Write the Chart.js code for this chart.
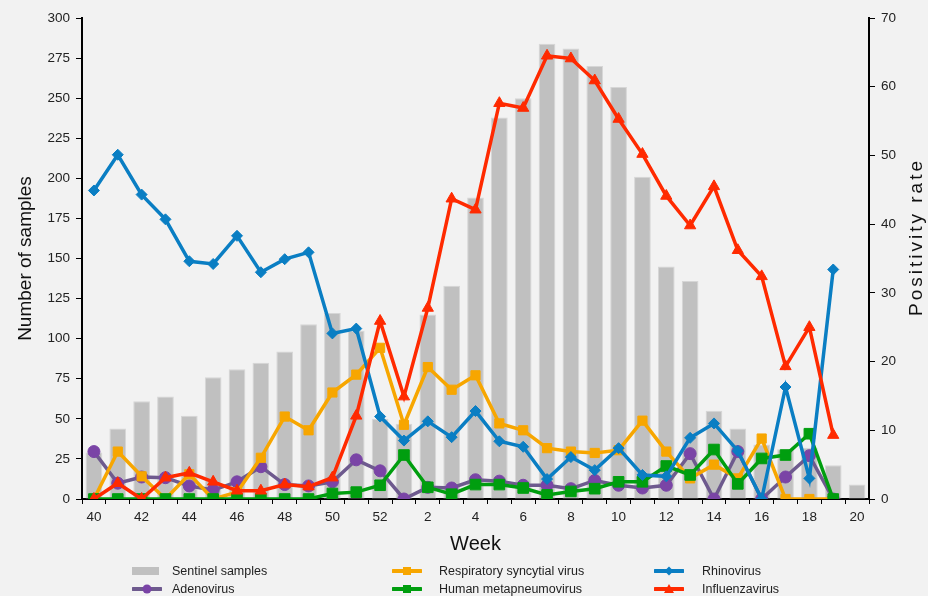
<!DOCTYPE html>
<html>
<head>
<meta charset="utf-8">
<script src="https://cdn.jsdelivr.net/npm/chart.js@4.4.1/dist/chart.umd.min.js"></script>
<style>
  html, body { margin: 0; padding: 0; background: #f2f2f2; }
  #wrap { position: relative; width: 928px; height: 596px; }
  #legend { position: absolute; left: 0; top: 0; width: 928px; height: 596px; pointer-events: none;
            font: 12.5px "Liberation Sans", Arial, sans-serif; color: #222; }
  .icon { position: absolute; }
  .text { position: absolute; height: 16px; line-height: 16px; white-space: nowrap; }
</style>
</head>
<body>
<div id="wrap">
  <canvas id="chart" width="928" height="596"></canvas>
  <div id="legend"></div>
</div>
<script>
// weeks 40..52 of one year, 1..20 of the next
const weeks = ['40','41','42','43','44','45','46','47','48','49','50','51','52',
               '1','2','3','4','5','6','7','8','9','10','11','12','13','14','15','16','17','18','19','20'];

// number of samples (left axis)
const sentinelSamples = [29, 44, 61, 64, 52, 76, 81, 85, 92, 109, 116, 105, 50,
                         47, 115, 133, 188, 238, 250, 284, 281, 270, 257, 201, 145, 136, 55, 44, 34, 31, 32, 21, 9];

// positivity rates (right axis)
const influenzavirus = [0, 2.3, 0, 3.1, 3.8, 2.5, 1.2, 1.2, 2.1, 1.8, 3.1, 12.1, 25.9,
                        14.9, 27.8, 43.7, 42.1, 57.6, 56.9, 64.5, 64.1, 60.9, 55.3, 50.2, 44.1, 39.8, 45.5, 36.2, 32.4, 19.3, 25.0, 9.3, null];
const rhinovirus = [44.9, 50.1, 44.3, 40.7, 34.6, 34.2, 38.3, 33.0, 34.9, 35.9, 24.1, 24.8, 12.0,
                    8.5, 11.3, 9.0, 12.8, 8.4, 7.6, 2.9, 6.1, 4.2, 7.4, 3.5, 3.3, 8.9, 11.0, 7.0, 0, 16.3, 3.0, 33.4, null];
const rsv = [0, 6.9, 3.3, 0, 3.6, 0, 1.0, 6.0, 12.0, 10.0, 15.5, 18.1, 22.0,
             10.8, 19.2, 15.9, 18.0, 11.0, 10.0, 7.4, 6.9, 6.7, 7.1, 11.4, 6.9, 3.0, 5.0, 3.0, 8.8, 0, 0, 0, null];
const metapneumovirus = [0, 0, 0, 0, 0, 0, 0, 0, 0, 0, 0.8, 1.0, 2.0,
                         6.4, 1.7, 0.7, 2.1, 2.1, 1.6, 0.6, 1.1, 1.5, 2.5, 2.5, 4.8, 3.5, 7.2, 2.2, 5.9, 6.4, 9.5, 0, null];
const adenovirus = [6.9, 2.3, 3.2, 3.1, 1.9, 1.3, 2.5, 4.7, 2.1, 1.9, 2.5, 5.7, 4.1,
                    0, 1.7, 1.6, 2.8, 2.6, 2.0, 2.0, 1.5, 2.7, 2.0, 1.6, 2.0, 6.6, 0, 6.9, 0, 3.2, 6.3, 0, null];

const FONT = '"Liberation Sans", Arial, sans-serif';
Chart.defaults.font.family = FONT;
Chart.defaults.color = '#222';

function lineSet(label, data, color, markColor, style, radius) {
    return {
        type: 'line', label: label, data: data, yAxisID: 'y1',
        borderColor: color, borderWidth: 3.5, tension: 0, spanGaps: false,
        pointStyle: style, pointRadius: radius, pointHoverRadius: radius,
        pointBackgroundColor: markColor, pointBorderColor: markColor, pointBorderWidth: 1
    };
}

const datasets = [
    lineSet('Influenzavirus', influenzavirus, '#ff2a00', '#ff2a00', 'triangle', 6.5),
    lineSet('Rhinovirus', rhinovirus, '#0a7ec3', '#0a7ec3', 'rectRot', 5.5),
    lineSet('Human metapneumovirus', metapneumovirus, '#009e0f', '#009e0f', 'rect', 7.5),
    lineSet('Respiratory syncytial virus', rsv, '#f7a600', '#f7a600', 'rect', 6.5),
    lineSet('Adenovirus', adenovirus, '#6e5a8e', '#7a44a6', 'circle', 6),
    {
        type: 'bar', label: 'Sentinel samples', data: sentinelSamples, yAxisID: 'y',
        backgroundColor: '#c0c0c0', borderColor: '#d6d6d6', borderWidth: 1,
        barPercentage: 0.7, categoryPercentage: 1.0
    }
];

// right axis title reads bottom-to-top, which chart.js won't do for a right axis
const rightTitle = {
    id: 'rightTitle',
    afterDraw(chart) {
        const ctx = chart.ctx;
        ctx.save();
        ctx.translate(chart.width - 11, 237);
        ctx.rotate(-Math.PI / 2);
        ctx.font = '19px ' + FONT;
        ctx.letterSpacing = '3px';
        ctx.fillStyle = '#111';
        ctx.textAlign = 'center';
        ctx.textBaseline = 'middle';
        ctx.fillText('Positivity rate', 0, 0);
        ctx.restore();
    }
};

const chart = new Chart(document.getElementById('chart'), {
    data: { labels: weeks, datasets: datasets },
    options: {
        responsive: false,
        animation: false,
        layout: { padding: { top: 18, bottom: 40, left: 0, right: 0 } },
        plugins: { legend: { display: false }, tooltip: { enabled: false } },
        scales: {
            x: {
                offset: true,
                afterFit: s => { s.height = 57; },
                grid: { offset: true, drawOnChartArea: false, color: '#000', tickLength: 5 },
                border: { color: '#000', width: 2 },
                ticks: {
                    autoSkip: false, maxRotation: 0, padding: 5,
                    font: { size: 13.5 }, color: '#222',
                    callback: function (v, i) { return i % 2 === 0 ? this.getLabelForValue(v) : ''; }
                },
                title: { display: true, text: 'Week', font: { size: 20 }, color: '#111', padding: { top: 0, bottom: 0 } }
            },
            y: {
                position: 'left', min: 0, max: 300,
                afterFit: s => { s.width = 82; },
                grid: { drawOnChartArea: false, color: '#000', tickLength: 6 },
                border: { color: '#000', width: 2 },
                ticks: { stepSize: 25, padding: 6, font: { size: 13.5 }, color: '#222' },
                title: { display: true, text: 'Number of samples', font: { size: 19 }, color: '#111', padding: { top: 14, bottom: 0 } }
            },
            y1: {
                position: 'right', min: 0, max: 70,
                afterFit: s => { s.width = 59; },
                grid: { drawOnChartArea: false, color: '#000', tickLength: 6 },
                border: { color: '#000', width: 2 },
                ticks: { stepSize: 10, padding: 6, font: { size: 13.5 }, color: '#222' }
            }
        }
    },
    plugins: [rightTitle]
});

// two-row legend laid out in three fixed columns, like the reference
const legendOrder = ['Sentinel samples', 'Respiratory syncytial virus', 'Rhinovirus',
                     'Adenovirus', 'Human metapneumovirus', 'Influenzavirus'];
const iconLeft = [132, 392, 654];
const textLeft = [172, 439, 702];
const rowMid = [571, 589];

function iconSvg(ds) {
    if (ds.type === 'bar') {
        return '<svg width="28" height="14"><rect x="0" y="3" width="27" height="8" fill="' + ds.backgroundColor + '"/></svg>';
    }
    const c = ds.pointBackgroundColor;
    let mark = '';
    if (ds.pointStyle === 'circle') mark = '<circle cx="15" cy="7" r="4.5" fill="' + c + '"/>';
    else if (ds.pointStyle === 'rect') mark = '<rect x="11" y="3" width="8" height="8" fill="' + c + '"/>';
    else if (ds.pointStyle === 'rectRot') mark = '<polygon points="15,2.5 19.5,7 15,11.5 10.5,7" fill="' + c + '"/>';
    else mark = '<polygon points="15,2 20,11 10,11" fill="' + c + '"/>';
    return '<svg width="30" height="14"><line x1="1" y1="7" x2="29" y2="7" stroke="' + ds.borderColor +
           '" stroke-width="4" stroke-linecap="round"/>' + mark + '</svg>';
}

const legend = document.getElementById('legend');
legendOrder.forEach((name, k) => {
    const ds = chart.data.datasets.find(d => d.label === name);
    const col = k % 3, row = Math.floor(k / 3);
    const icon = document.createElement('div');
    icon.className = 'icon';
    icon.style.left = iconLeft[col] + 'px';
    icon.style.top = (rowMid[row] - 7) + 'px';
    icon.innerHTML = iconSvg(ds);
    legend.appendChild(icon);
    const t = document.createElement('div');
    t.className = 'text';
    t.style.left = textLeft[col] + 'px';
    t.style.top = (rowMid[row] - 8) + 'px';
    t.textContent = name;
    legend.appendChild(t);
});
</script>
</body>
</html>
